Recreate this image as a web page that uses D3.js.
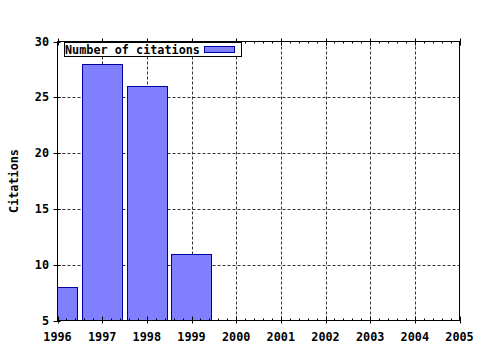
<!DOCTYPE html>
<html>
<head>
<script src="https://d3js.org/d3.v7.min.js"></script>
<style>
body { margin: 0; background: white; }
text { font-family: "DejaVu Sans Mono", monospace; font-weight: bold; font-size: 11.8px; }
</style>
</head>
<body>
<script>
// data
var years = [1996, 1997, 1998, 1999];
var citations = [8, 28, 26, 11];
var xTicks = [1996, 1997, 1998, 1999, 2000, 2001, 2002, 2003, 2004, 2005];
var yTicks = [5, 10, 15, 20, 25, 30];
var seriesName = "Number of citations";

var width = 480, height = 350;
var pLeft = 57.5, pRight = 459.5, pTop = 41.5, pBottom = 320.5;

var svg = d3.select("body").append("svg")
  .attr("width", width)
  .attr("height", height);

var x = d3.scaleLinear().domain([1996, 2005]).range([pLeft, pRight]);
var y = d3.scaleLinear().domain([5, 30]).range([pBottom, pTop]);

function px(v) { return Math.round(v) + 0.5; }

// clip for bars
svg.append("clipPath").attr("id", "plot")
  .append("rect").attr("x", pLeft).attr("y", pTop)
  .attr("width", pRight - pLeft).attr("height", pBottom - pTop);

// grid
var grid = svg.append("g").attr("stroke", "#333").attr("stroke-dasharray", "3,2");
grid.selectAll(".vg").data(xTicks.slice(1, -1)).enter().append("line")
  .attr("x1", function(d) { return px(x(d)); })
  .attr("x2", function(d) { return px(x(d)); })
  .attr("y1", pTop).attr("y2", pBottom);
grid.selectAll(".hg").data(yTicks.slice(1, -1)).enter().append("line")
  .attr("y1", function(d) { return px(y(d)); })
  .attr("y2", function(d) { return px(y(d)); })
  .attr("x1", pLeft).attr("x2", pRight);

// bars
var bw = (x(1997) - x(1996)) * 0.9;
svg.append("g").attr("clip-path", "url(#plot)")
  .selectAll("rect").data(years).enter().append("rect")
  .attr("x", function(d) { return px(x(d) - bw / 2); })
  .attr("y", function(d, i) { return px(y(citations[i])); })
  .attr("width", Math.round(bw))
  .attr("height", function(d, i) { return Math.round(y(5)) - Math.round(y(citations[i])); })
  .attr("fill", "#8080ff")
  .attr("stroke", "#0000a0")
  .attr("stroke-width", 1);

// minor ticks on x
var minor = [];
for (var yr = 1996; yr < 2005; yr++) {
  for (var k = 1; k < 5; k++) minor.push(yr + k / 5);
}
var ax = svg.append("g").attr("stroke", "black");
ax.selectAll(".mb").data(minor).enter().append("line")
  .attr("x1", function(d) { return px(x(d)); })
  .attr("x2", function(d) { return px(x(d)); })
  .attr("y1", pBottom).attr("y2", pBottom - 2);
ax.selectAll(".mt").data(minor).enter().append("line")
  .attr("x1", function(d) { return px(x(d)); })
  .attr("x2", function(d) { return px(x(d)); })
  .attr("y1", pTop).attr("y2", pTop + 2);
// major ticks
ax.selectAll(".Mb").data(xTicks).enter().append("line")
  .attr("x1", function(d) { return px(x(d)); })
  .attr("x2", function(d) { return px(x(d)); })
  .attr("y1", pBottom + 3).attr("y2", pBottom - 4);
ax.selectAll(".Mt").data(xTicks).enter().append("line")
  .attr("x1", function(d) { return px(x(d)); })
  .attr("x2", function(d) { return px(x(d)); })
  .attr("y1", pTop - 3).attr("y2", pTop + 4);
ax.selectAll(".My").data(yTicks).enter().append("line")
  .attr("y1", function(d) { return px(y(d)); })
  .attr("y2", function(d) { return px(y(d)); })
  .attr("x1", pLeft - 4).attr("x2", pLeft + 3);

// frame
svg.append("rect").attr("x", pLeft).attr("y", pTop)
  .attr("width", pRight - pLeft).attr("height", pBottom - pTop)
  .attr("fill", "none").attr("stroke", "black");

// tick labels
svg.append("g").selectAll("text").data(xTicks).enter().append("text")
  .attr("x", function(d) { return x(d); })
  .attr("y", 341)
  .attr("text-anchor", "middle")
  .text(function(d) { return d; });
svg.append("g").selectAll("text").data(yTicks).enter().append("text")
  .attr("x", 49)
  .attr("y", function(d) { return y(d) + 4; })
  .attr("text-anchor", "end")
  .text(function(d) { return d; });

// axis title
svg.append("text")
  .attr("transform", "translate(18," + ((pTop + pBottom) / 2) + ") rotate(-90)")
  .attr("text-anchor", "middle")
  .text("Citations");

// legend
var lg = svg.append("g");
lg.append("rect").attr("x", 64.5).attr("y", 42.5).attr("width", 177).attr("height", 14)
  .attr("fill", "white").attr("stroke", "black");
lg.append("text").attr("x", 65).attr("y", 54).text(seriesName);
lg.append("rect").attr("x", 204.5).attr("y", 46.5).attr("width", 30).attr("height", 6)
  .attr("fill", "#8080ff").attr("stroke", "#0000a0");
</script>
</body>
</html>
